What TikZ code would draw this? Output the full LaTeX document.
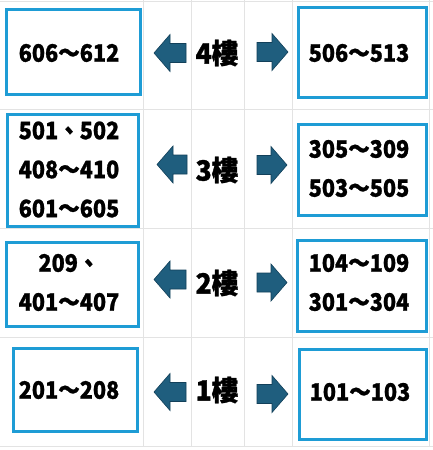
\documentclass[tikz,border=0pt]{standalone}
\usepackage{fontspec}
\newfontfamily\cjk{Noto Sans CJK TC}[FakeStretch=0.9, FakeBold=1]
\newfontfamily\cjkfloor{Noto Sans CJK TC}[FakeStretch=0.95, FakeBold=1.2]
\definecolor{boxblue}{HTML}{1E9CD5}
\definecolor{arrowfill}{HTML}{1F5E7E}
\definecolor{arrowline}{HTML}{12405A}
\definecolor{gridgray}{HTML}{E3E3E3}
\tikzset{
  roombox/.style={draw=boxblue, line width=3pt, fill=white, inner sep=0pt},
  roomtext/.style={inner sep=0pt, align=center, font=\cjk\bfseries\fontsize{24}{39}\selectfont},
  floorlabel/.style={inner sep=0pt, font=\cjkfloor\bfseries\fontsize{28}{30}\selectfont},
  blockarrow/.style={fill=arrowfill, draw=arrowline, line width=0.6pt, line join=miter},
  gridline/.style={draw=gridgray, line width=0.9pt}
}
\newcommand{\leftarr}[3]{% tip x, tail x, center y
  \path[blockarrow] (#1,#3) -- (#1+16,#3-18.5) -- (#1+16,#3-9.5) -- (#2,#3-9.5) -- (#2,#3+9.5) -- (#1+16,#3+9.5) -- (#1+16,#3+18.5) -- cycle;}
\newcommand{\rightarr}[3]{% tail x, tip x, center y
  \path[blockarrow] (#2,#3) -- (#2-16,#3-18.5) -- (#2-16,#3-9.5) -- (#1,#3-9.5) -- (#1,#3+9.5) -- (#2-16,#3+9.5) -- (#2-16,#3+18.5) -- cycle;}
\begin{document}
\begin{tikzpicture}[x=1pt,y=-1pt]
\useasboundingbox (0,0) rectangle (433,450);
\fill[white] (0,0) rectangle (433,450);
% spreadsheet grid
\foreach \gx in {143,191,244,292,429} \draw[gridline] (\gx,0) -- (\gx,446);
\foreach \gy in {1,109,228,337,446} \draw[gridline] (0,\gy) -- (433,\gy);
% boxes
\node[roombox, minimum width=134pt, minimum height=85pt] (b4l) at (73.5,52) {};
\node[roombox, minimum width=128pt, minimum height=90pt] (b4r) at (362.5,52.5) {};
\node[roombox, minimum width=131pt, minimum height=112pt] (b3l) at (73,170.5) {};
\node[roombox, minimum width=128pt, minimum height=91pt] (b3r) at (362.5,170) {};
\node[roombox, minimum width=132pt, minimum height=84pt] (b2l) at (72.5,284.5) {};
\node[roombox, minimum width=129pt, minimum height=91pt] (b2r) at (362,286) {};
\node[roombox, minimum width=124pt, minimum height=83pt] (b1l) at (75.5,390) {};
\node[roombox, minimum width=127pt, minimum height=90pt] (b1r) at (363,394.5) {};
% box texts
\node[roomtext] (t4l) at (69,53) {606～612};
\node[roomtext] (t4r) at (359,53) {506～513};
\node[roomtext] (t3l) at (69,169.5) {501、502\\408～410\\601～605};
\node[roomtext] (t3r) at (359,168.5) {305～309\\503～505};
\node[roomtext] (t2l) at (69,282.5) {209、\\401～407};
\node[roomtext] (t2r) at (359,282.5) {104～109\\301～304};
\node[roomtext] (t1l) at (69,390) {201～208};
\node[roomtext] (t1r) at (360,392) {101～103};
% floor labels
\node[floorlabel] (f4) at (217,53) {4樓};
\node[floorlabel] (f3) at (217,170) {3樓};
\node[floorlabel] (f2) at (217,283) {2樓};
\node[floorlabel] (f1) at (217,390) {1樓};
% arrows
\leftarr{154}{186}{53}
\rightarr{257}{288}{52}
\leftarr{157}{187}{164.5}
\rightarr{257}{287}{165}
\leftarr{154}{186}{279.5}
\rightarr{257}{287}{282.5}
\leftarr{154}{186}{392}
\rightarr{257}{288}{394}
\end{tikzpicture}
\end{document}
